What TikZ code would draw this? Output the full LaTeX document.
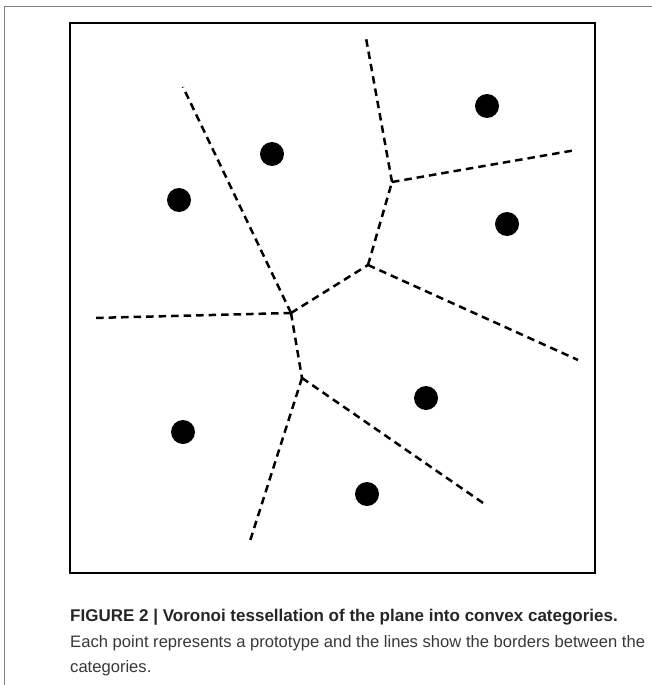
\documentclass[tikz,border=0pt]{standalone}
\usepackage{fontspec}
\setmainfont{Liberation Sans}
\begin{document}
\begin{tikzpicture}[x=1pt,y=-1pt,
  border/.style={line width=2.5pt, dash pattern=on 7.5pt off 5pt},
  proto/.style={circle, fill=black, inner sep=0pt, minimum size=24pt},
  captext/.style={anchor=base west, inner sep=0pt, font=\fontsize{16.6}{19}\selectfont}]
\useasboundingbox (0,0) rectangle (652,685);
\draw[gray, line width=1.2pt] (4.5,685) -- (4.5,6.5) -- (652,6.5);
\draw[line width=2.8pt] (70,23) rectangle (595,573);
% vertices
\coordinate (A) at (291,313);
\coordinate (B) at (368,265);
\coordinate (C) at (302,378);
\coordinate (D) at (392,182);
% free ends
\coordinate (eL) at (93,318);
\coordinate (eTL) at (183,87);
\coordinate (eT) at (366,38);
\coordinate (eR1) at (576,150);
\coordinate (eR2) at (578,360);
\coordinate (eB) at (250,541);
\coordinate (eBR) at (486,505);
\draw[border] (A) -- (eL);
\draw[border] (A) -- (eTL);
\draw[border] (A) -- (B);
\draw[border] (A) -- (C);
\draw[border] (B) -- (D);
\draw[border] (D) -- (eT);
\draw[border] (D) -- (eR1);
\draw[border] (B) -- (eR2);
\draw[border] (C) -- (eB);
\draw[border] (C) -- (eBR);
% prototypes
\node[proto] (p1) at (272,154) {};
\node[proto] (p2) at (179,200) {};
\node[proto] (p3) at (487,106) {};
\node[proto] (p4) at (507,224) {};
\node[proto] (p5) at (183,432) {};
\node[proto] (p6) at (426,398) {};
\node[proto] (p7) at (367,494) {};
% caption
\node[captext, text=black!85, font=\fontsize{17}{19}\selectfont\bfseries] (c1) at (70,621) {FIGURE 2 | Voronoi tessellation of the plane into convex categories.};
\node[captext, text=black!78] (c2) at (70,647) {Each point represents a prototype and the lines show the borders between the};
\node[captext, text=black!78] (c3) at (70,672) {categories.};
\end{tikzpicture}
\end{document}
